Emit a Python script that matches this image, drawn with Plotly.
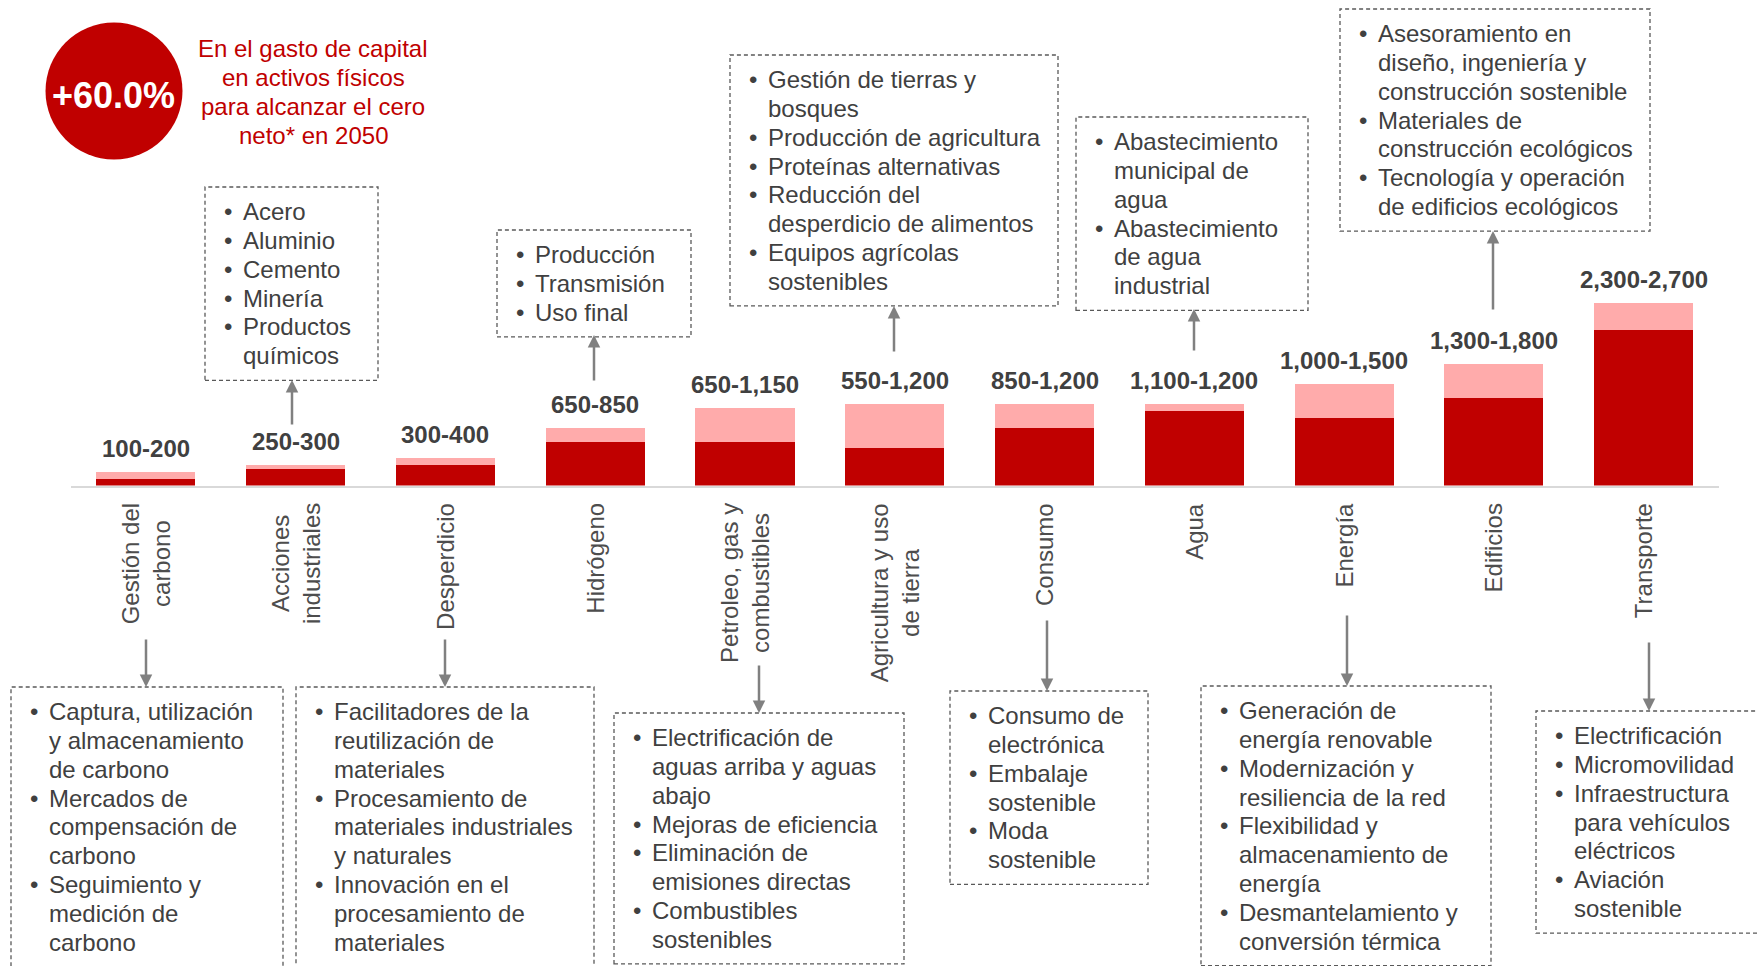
import plotly.graph_objects as go

W, H = 1758, 966

DARK_RED = "#C00000"
PINK = "#FFABAB"
TEXT_GREY = "#404040"
BOX_GREY = "#595959"
ARROW_GREY = "#808080"
FONT = "Liberation Sans, Arial, sans-serif"

# --- data -------------------------------------------------------------------
categories = ["Gestión del carbono", "Acciones industriales", "Desperdicio", "Hidrógeno",
              "Petroleo, gas y combustibles", "Agricultura y uso de tierra", "Consumo",
              "Agua", "Energía", "Edificios", "Transporte"]
tick_labels = ["Gestión del<br>carbono", "Acciones<br>industriales", "Desperdicio", "Hidrógeno",
               "Petroleo, gas y<br>combustibles", "Agricultura y uso<br>de tierra", "Consumo",
               "Agua", "Energía", "Edificios", "Transporte"]
capex_low = [100, 250, 300, 650, 650, 550, 850, 1100, 1000, 1300, 2300]
capex_high = [200, 300, 400, 850, 1150, 1200, 1200, 1200, 1500, 1800, 2700]

headline_value = "+60.0%"
headline_text = ["En el gasto de capital", "en activos físicos",
                 "para alcanzar el cero", "neto* en 2050"]

carbono_items = [["Captura, utilización", "y almacenamiento", "de carbono"],
                 ["Mercados de", "compensación de", "carbono"],
                 ["Seguimiento y", "medición de", "carbono"]]
industria_items = [["Acero"], ["Aluminio"], ["Cemento"], ["Minería"], ["Productos", "químicos"]]
desperdicio_items = [["Facilitadores de la", "reutilización de", "materiales"],
                     ["Procesamiento de", "materiales industriales", "y naturales"],
                     ["Innovación en el", "procesamiento de", "materiales"]]
hidrogeno_items = [["Producción"], ["Transmisión"], ["Uso final"]]
petroleo_items = [["Electrificación de", "aguas arriba y aguas", "abajo"],
                  ["Mejoras de eficiencia"],
                  ["Eliminación de", "emisiones directas"],
                  ["Combustibles", "sostenibles"]]
agricultura_items = [["Gestión de tierras y", "bosques"],
                     ["Producción de agricultura"],
                     ["Proteínas alternativas"],
                     ["Reducción del", "desperdicio de alimentos"],
                     ["Equipos agrícolas", "sostenibles"]]
consumo_items = [["Consumo de", "electrónica"], ["Embalaje", "sostenible"], ["Moda", "sostenible"]]
agua_items = [["Abastecimiento", "municipal de", "agua"],
              ["Abastecimiento", "de agua", "industrial"]]
energia_items = [["Generación de", "energía renovable"],
                 ["Modernización y", "resiliencia de la red"],
                 ["Flexibilidad y", "almacenamiento de", "energía"],
                 ["Desmantelamiento y", "conversión térmica"]]
edificios_items = [["Asesoramiento en", "diseño, ingeniería y", "construcción sostenible"],
                   ["Materiales de", "construcción ecológicos"],
                   ["Tecnología y operación", "de edificios ecológicos"]]
transporte_items = [["Electrificación"], ["Micromovilidad"],
                    ["Infraestructura", "para vehículos", "eléctricos"],
                    ["Aviación", "sostenible"]]

# --- layout constants (pixels) ------------------------------------------------
BASE_Y = 485.5          # bar baseline
PX_PER_UNIT = 0.0676
Y_MAX = 3000
LINE_H = 28.8

# (items, left, top, right)
boxes = [
    (industria_items, 205, 187, 378),
    (hidrogeno_items, 497, 230, 691),
    (agricultura_items, 730, 55, 1058),
    (agua_items, 1076, 117, 1308),
    (edificios_items, 1340, 9, 1650),
    (carbono_items, 11, 687, 283),
    (desperdicio_items, 296, 687, 594),
    (petroleo_items, 614, 713, 904),
    (consumo_items, 950, 691, 1148),
    (energia_items, 1201, 686, 1491),
    (transporte_items, 1536, 711, 1762),
]

# (x, tail y, tip y)
arrows = [
    (292, 426, 380), (594, 382, 335), (894, 353, 306), (1194, 352, 309), (1493, 311, 231),
    (146, 638, 687), (445, 638, 687), (759, 664, 713), (1047, 619, 691),
    (1347, 614, 686), (1649, 641, 711),
]


def px(x):
    return x / W


def py(y):
    return 1 - y / H


fig = go.Figure()
fig.add_trace(go.Bar(x=categories, y=capex_low, marker=dict(color=DARK_RED, line=dict(width=0)),
                     hoverinfo="skip"))
fig.add_trace(go.Bar(x=categories, y=[h - l for l, h in zip(capex_low, capex_high)],
                     marker=dict(color=PINK, line=dict(width=0)), hoverinfo="skip"))

annotations = []
shapes = []

# value labels above bars
for cat, lo, hi in zip(categories, capex_low, capex_high):
    annotations.append(dict(x=cat, y=hi, xref="x", yref="y", text=f"<b>{lo:,}-{hi:,}</b>",
                            showarrow=False, xanchor="center", yanchor="bottom", yshift=8,
                            font=dict(family=FONT, size=24, color=TEXT_GREY)))

# rotated category labels
for cat, lab in zip(categories, tick_labels):
    annotations.append(dict(x=cat, y=py(501), xref="x", yref="paper", text=lab,
                            showarrow=False, textangle=-90, xanchor="center", yanchor="top",
                            align="center",
                            font=dict(family=FONT, size=24, color="#4D4D4D")))

# headline circle
shapes.append(dict(type="circle", xref="paper", yref="paper",
                   x0=px(114 - 68.5), x1=px(114 + 68.5), y0=py(91 + 68.5), y1=py(91 - 68.5),
                   fillcolor=DARK_RED, line=dict(width=0)))
annotations.append(dict(x=px(114), y=py(95), xref="paper", yref="paper",
                        text=f"<b>{headline_value}</b>", showarrow=False,
                        xanchor="center", yanchor="middle",
                        font=dict(family=FONT, size=36, color="white")))
for i, line in enumerate(headline_text):
    annotations.append(dict(x=px(313), y=py(48.3 + i * 29), xref="paper", yref="paper",
                            text=line, showarrow=False, xanchor="center", yanchor="middle",
                            font=dict(family=FONT, size=24, color=DARK_RED)))

# dashed boxes with bullet lists
for items, left, top, right in boxes:
    n = sum(len(it) for it in items)
    bottom = top + 20.5 + n * LINE_H
    shapes.append(dict(type="rect", xref="paper", yref="paper",
                       x0=px(left), x1=px(right), y0=py(bottom), y1=py(top),
                       line=dict(color=BOX_GREY, width=1.3, dash="4px,3px")))
    row = 0
    for it in items:
        for j, line in enumerate(it):
            y = top + 24.7 + row * LINE_H
            if j == 0:
                annotations.append(dict(x=px(left + 17), y=py(y), xref="paper", yref="paper",
                                        text="•", showarrow=False, xanchor="left",
                                        yanchor="middle",
                                        font=dict(family=FONT, size=24, color=TEXT_GREY)))
            annotations.append(dict(x=px(left + 36), y=py(y), xref="paper", yref="paper",
                                    text=line, showarrow=False, xanchor="left",
                                    yanchor="middle",
                                    font=dict(family=FONT, size=24, color=TEXT_GREY)))
            row += 1

# connector arrows
for x, tail, tip in arrows:
    annotations.append(dict(x=px(x), y=py(tip), xref="paper", yref="paper", text="",
                            showarrow=True, ax=0, ay=tail - tip, arrowhead=2, arrowsize=1,
                            arrowwidth=2.5, arrowcolor=ARROW_GREY, standoff=0))

x_left = 70.9
x_right = 1718.6
fig.update_layout(
    width=W, height=H,
    margin=dict(l=0, r=0, t=0, b=0),
    barmode="stack",
    bargap=0.338,
    showlegend=False,
    plot_bgcolor="white",
    paper_bgcolor="white",
    hovermode=False,
    xaxis=dict(type="category", range=[-0.5, len(categories) - 0.5],
               domain=[px(x_left), px(x_right)], showticklabels=False, ticks="",
               showgrid=False, zeroline=False, showline=True, linecolor="#D9D9D9",
               linewidth=2),
    yaxis=dict(range=[0, Y_MAX], domain=[py(BASE_Y), py(BASE_Y - Y_MAX * PX_PER_UNIT)],
               visible=False, showgrid=False, zeroline=False),
    annotations=annotations,
    shapes=shapes,
)

fig.write_html("out.html", config={"displayModeBar": False},
               post_script="document.body.style.margin = '0px';")
